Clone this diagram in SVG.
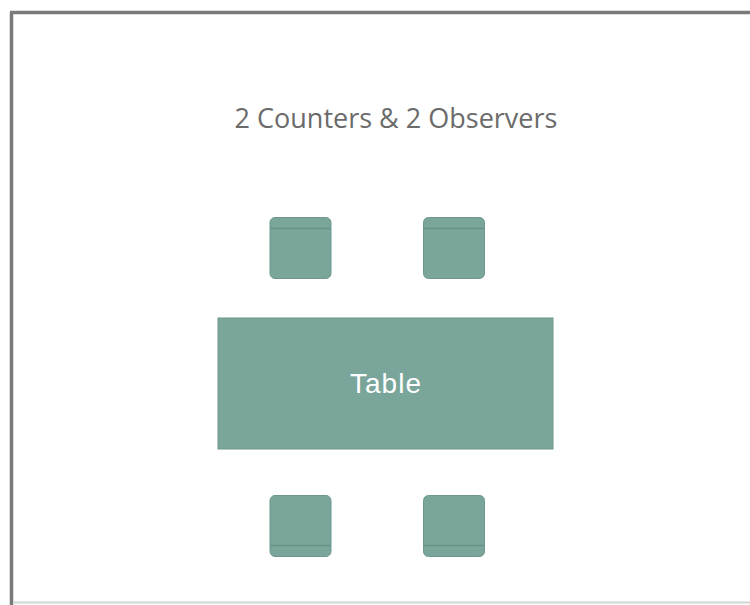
<svg xmlns="http://www.w3.org/2000/svg" width="750" height="605" viewBox="0 0 750 605">
<style>
.chair{fill:#7aa59a;stroke:#6e988d;stroke-width:1}
.band{stroke:#5f8a7f;stroke-width:1.5;opacity:0.7}
.title{font-family:"Open Sans","Liberation Sans",sans-serif;font-size:27px;fill:#6b6b6b}
.label{font-family:"Liberation Sans",sans-serif;font-size:28px;fill:#ffffff;letter-spacing:1px}
</style>
<rect x="0" y="0" width="750" height="605" fill="#ffffff"/>
<line x1="11.5" y1="12.5" x2="11.5" y2="605" stroke="#7a7a7a" stroke-width="3.5"/>
<line x1="10" y1="12.5" x2="750" y2="12.5" stroke="#7a7a7a" stroke-width="3.5"/>
<line x1="13" y1="602.5" x2="750" y2="602.5" stroke="#d4d4d4" stroke-width="2"/>
<text class="title" x="396" y="128" text-anchor="middle">2 Counters &amp; 2 Observers</text>
<g id="chair-tl"><rect class="chair" x="270" y="217.5" width="61" height="61" rx="5"/><line class="band" x1="270.5" y1="228.5" x2="330.5" y2="228.5"/></g>
<g id="chair-tr"><rect class="chair" x="423.5" y="217.5" width="61" height="61" rx="5"/><line class="band" x1="424" y1="228.5" x2="484" y2="228.5"/></g>
<g id="table"><rect x="218" y="318" width="335" height="131" fill="#7aa59a" stroke="#6e988d" stroke-width="1"/><text class="label" x="386" y="393" text-anchor="middle">Table</text></g>
<g id="chair-bl"><rect class="chair" x="270" y="495.5" width="61" height="61" rx="5"/><line class="band" x1="270.5" y1="545.5" x2="330.5" y2="545.5"/></g>
<g id="chair-br"><rect class="chair" x="423.5" y="495.5" width="61" height="61" rx="5"/><line class="band" x1="424" y1="545.5" x2="484" y2="545.5"/></g>
<g id="connectors"></g>
</svg>
